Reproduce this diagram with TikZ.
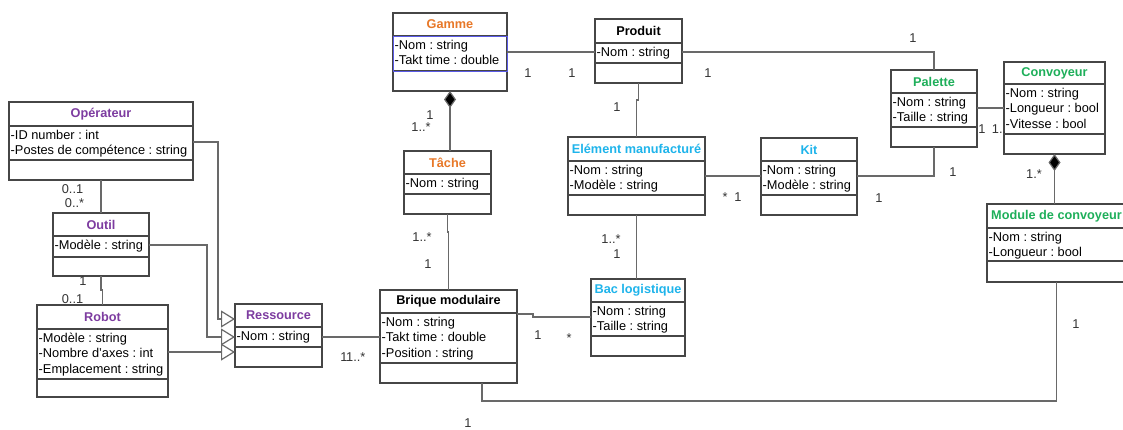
\documentclass[tikz,border=0pt]{standalone}
\usepackage{fontspec}
\setmainfont{Liberation Sans}
\usetikzlibrary{arrows.meta,calc}
\frenchspacing
\definecolor{cOrange}{RGB}{232,120,40}
\definecolor{cPurple}{RGB}{125,60,160}
\definecolor{cCyan}{RGB}{30,180,235}
\definecolor{cGreen}{RGB}{30,175,90}
\definecolor{cLine}{RGB}{105,105,105}
\definecolor{cBox}{RGB}{70,70,70}
\definecolor{cSel}{RGB}{90,90,230}
\tikzset{
  classbox/.style={draw=cBox, line width=1.2pt, fill=white, inner sep=0pt, outer sep=0pt},
  sepline/.style={draw=cBox, line width=1.1pt},
  titletext/.style={inner sep=0pt, font=\fontsize{12.7}{14}\selectfont\bfseries},
  attrtext/.style={anchor=base west, inner sep=0pt, font=\fontsize{12.8}{14}\selectfont},
  mult/.style={inner sep=0pt, font=\fontsize{12.8}{14}\selectfont, text=black!80},
  conn/.style={draw=cLine, line width=1.2pt},
  gen/.style={conn, -{Triangle[open, length=14pt, width=17pt, fill=white]}},
  comp/.style={conn, {Diamond[length=17pt, width=12pt, fill=black]}-}
}
\newcommand\umlclass[9]{%
  \node[classbox, anchor=north west, minimum width={(#4-#2)*1pt}, minimum height={(#5-#3)*1pt}] (#1) at (#2,#3) {};
  \draw[sepline] (#2,#6) -- (#4,#6) (#2,#7) -- (#4,#7);
  \node[titletext] (#1-title) at ({(#2+#4)/2},{(#3+#6)/2}) {#8};
  \foreach \a [count=\i] in {#9} \node[attrtext] at (#2+1.5,{#6+13.5+(\i-1)*15.3}) {\a};
}
\begin{document}
\begin{tikzpicture}[x=1pt, y=-1pt]
\path[use as bounding box] (0,0) rectangle (1123,429);
\clip (0,0) rectangle (1123,429);
\fill[white] (0,0) rectangle (1123,429);

% classes
\umlclass{operateur}{9}{102}{193}{180}{126}{160}{\color{cPurple}Opérateur}{{-ID number : int},{-Postes de compétence : string}}
\umlclass{outil}{53}{213}{149}{276}{236}{257}{\color{cPurple}Outil}{{-Modèle : string}}
\umlclass{robot}{37}{305}{168}{397}{329}{379}{\color{cPurple}Robot}{{-Modèle : string},{-Nombre d'axes : int},{-Emplacement : string}}
\umlclass{ressource}{235}{304}{322}{367}{327}{347}{\color{cPurple}Ressource}{{-Nom : string}}
\umlclass{gamme}{393}{13}{507}{91}{36}{71}{\color{cOrange}Gamme}{{-Nom : string},{-Takt time : double}}
\draw[cSel, line width=1pt] (gamme.west |- 0,36) rectangle (gamme.east |- 0,71);
\umlclass{tache}{404}{151}{491}{214}{174}{194}{\color{cOrange}Tâche}{{-Nom : string}}
\umlclass{brique}{380}{290}{517}{383}{313}{363}{Brique modulaire}{{-Nom : string},{-Takt time : double},{-Position : string}}
\umlclass{produit}{595}{19}{682}{83}{43}{63}{Produit}{{-Nom : string}}
\umlclass{element}{568}{137}{705}{215}{161}{195}{\color{cCyan}Elément manufacturé}{{-Nom : string},{-Modèle : string}}
\umlclass{bac}{591}{279}{685}{356}{302}{336}{\color{cCyan}Bac logistique}{{-Nom : string},{-Taille : string}}
\umlclass{kit}{761}{138}{857}{215}{161}{195}{\color{cCyan}Kit}{{-Nom : string},{-Modèle : string}}
\umlclass{palette}{891}{70}{977}{147}{93}{127}{\color{cGreen}Palette}{{-Nom : string},{-Taille : string}}
\umlclass{convoyeur}{1004}{62}{1105}{154}{84}{134}{\color{cGreen}Convoyeur}{{-Nom : string},{-Longueur : bool},{-Vitesse : bool}}
\umlclass{module}{987}{204}{1126}{282}{228}{261}{\color{cGreen}Module de convoyeur}{{-Nom : string},{-Longueur : bool}}

% connectors
\draw[conn] (operateur.south) -- (outil.north);
\draw[conn] (outil.south) -- ++(0,14) -| (robot.north);
\draw[gen] (operateur.east |- 0,142) -| (218,319) -- (ressource.west |- 0,319);
\draw[gen] (outil.east |- 0,245) -| (207,337) -- (ressource.west |- 0,337);
\draw[gen] (robot.east |- 0,352) -- (ressource.west |- 0,352);
\draw[conn] (ressource.east |- 0,337) -- (brique.west |- 0,337);
\draw[comp] (gamme.south) -- (gamme.south |- tache.north);
\draw[conn] (tache.south) -- ++(0,18) -| (brique.north);
\draw[conn] (gamme.east |- 0,52) -- (produit.west |- 0,52);
\draw[conn] (produit.east |- 0,52) -| (palette.north);
\draw[conn] (produit.south) -- ++(0,17) -| (element.north);
\draw[conn] (element.east |- 0,176) -- (kit.west |- 0,176);
\draw[conn] (kit.east |- 0,176) -| (palette.south);
\draw[conn] (palette.east |- 0,108) -- (convoyeur.west |- 0,108);
\draw[comp] (convoyeur.south) -- (convoyeur.south |- module.north);
\draw[conn] (element.south) -- (element.south |- bac.north);
\draw[conn] (brique.east |- 0,314) -- (533,314) -- (533,317) -- (bac.west |- 0,317);
\coordinate (bqs) at ($(brique.south)+(33.5,0)$);
\draw[conn] (module.south) |- ($(bqs)+(0,18)$) -- (bqs);

% multiplicities
\node[mult] (m1) at (72.5,189) {0..1};
\node[mult] (m2) at (74.5,203) {0..*};
\node[mult] (m3) at (83,281) {1};
\node[mult] (m4) at (72.5,299) {0..1};
\node[mult] (m5) at (344,357) {1};
\node[mult, anchor=west] (m6) at (346,357) {1..*};
\node[mult] (m7) at (422,237) {1..*};
\node[mult] (m8) at (428,264) {1};
\node[mult] (m9) at (430,115) {1};
\node[mult] (m10) at (421,127) {1..*};
\node[mult] (m11) at (528,73) {1};
\node[mult] (m12) at (572,73) {1};
\node[mult] (m13) at (708,73) {1};
\node[mult] (m14) at (913,38) {1};
\node[mult] (m15) at (617,107) {1};
\node[mult] (m16) at (725,197) {*};
\node[mult] (m17) at (738,197) {1};
\node[mult] (m18) at (879,198) {1};
\node[mult] (m19) at (953,172) {1};
\node[mult] (m20) at (982,129) {1};
\node[mult] (m21) at (999,129) {1..};
\node[mult] (m22) at (1034,174) {1.*};
\node[mult] (m23) at (611,239) {1..*};
\node[mult] (m24) at (617,254) {1};
\node[mult] (m25) at (538,335) {1};
\node[mult] (m26) at (569,338) {*};
\node[mult] (m27) at (468,423) {1};
\node[mult] (m28) at (1076,324) {1};
\end{tikzpicture}
\end{document}
